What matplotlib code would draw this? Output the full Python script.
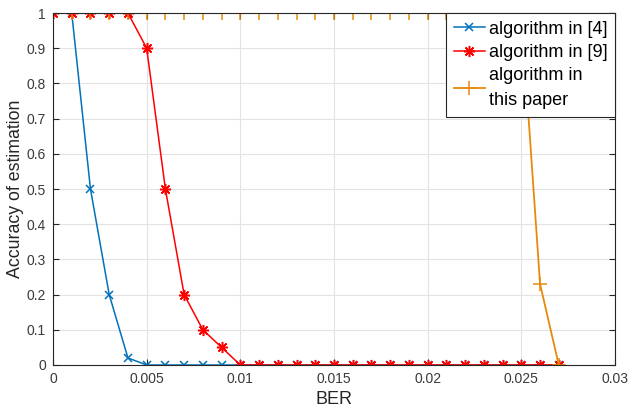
import matplotlib
matplotlib.use("Agg")
import matplotlib.pyplot as plt
import numpy as np

plt.rcParams['font.family'] = ['Liberation Sans', 'DejaVu Sans']

ber = [0.000, 0.001, 0.002, 0.003, 0.004, 0.005, 0.006, 0.007, 0.008, 0.009,
       0.010, 0.011, 0.012, 0.013, 0.014, 0.015, 0.016, 0.017, 0.018, 0.019,
       0.020, 0.021, 0.022, 0.023, 0.024, 0.025, 0.026, 0.027]
acc_alg4 = [1, 1, 0.5, 0.2, 0.02, 0, 0, 0, 0, 0,
            0, 0, 0, 0, 0, 0, 0, 0, 0, 0,
            0, 0, 0, 0, 0, 0, 0, 0]
acc_alg9 = [1, 1, 1, 1, 1, 0.9, 0.5, 0.2, 0.1, 0.05,
            0, 0, 0, 0, 0, 0, 0, 0, 0, 0,
            0, 0, 0, 0, 0, 0, 0, 0]
acc_this = [1, 1, 1, 1, 1, 1, 1, 1, 1, 1,
            1, 1, 1, 1, 1, 1, 1, 1, 1, 1,
            1, 1, 1, 1, 1, 1, 0.23, 0]
labels = ['algorithm in [4]', 'algorithm in [9]', 'algorithm in\nthis paper']
xticks = [0, 0.005, 0.01, 0.015, 0.02, 0.025, 0.03]
xticklabels = ['0', '0.005', '0.01', '0.015', '0.02', '0.025', '0.03']
yticks = [0, 0.1, 0.2, 0.3, 0.4, 0.5, 0.6, 0.7, 0.8, 0.9, 1]
yticklabels = ['0', '0.1', '0.2', '0.3', '0.4', '0.5', '0.6', '0.7', '0.8', '0.9', '1']

fig = plt.figure(figsize=(6.29, 4.15), dpi=100)
ax = fig.add_axes([53/629, 1-365/415, (615-53)/629, (365-13)/415])

ax.plot(ber, acc_alg4, color='#0072BD', marker='x', markersize=6, mew=1.1, lw=1.1, label=labels[0])
ax.plot(ber, acc_alg9, color='#FF0000', marker=(8, 2, 0), markersize=8, mew=1.1, lw=1.1, label=labels[1])
ax.plot(ber, acc_this, color='#E8890C', marker='+', markersize=10, mew=1.1, lw=1.3, label=labels[2])

ax.set_xlim(0, 0.03)
ax.set_ylim(0, 1)
ax.set_xticks(xticks)
ax.set_xticklabels(xticklabels)
ax.set_yticks(yticks)
ax.set_yticklabels(yticklabels)
ax.grid(True, color='#E3E3E3', lw=0.8)
ax.set_axisbelow(True)
ax.tick_params(direction='in', labelsize=10, length=4, top=True, right=True,
               colors='#262626', labelcolor='#3A3A3A', pad=5)
for s in ax.spines.values():
    s.set_color('#262626')
    s.set_linewidth(0.8)
ax.set_xlabel('BER', fontsize=13, color='#262626', labelpad=4)
ax.set_ylabel('Accuracy of estimation', fontsize=12.8, color='#262626', labelpad=2)

leg = ax.legend(loc='upper right', fontsize=13, frameon=True, fancybox=False,
                handlelength=1.75, handletextpad=0.2, borderpad=0.42, labelspacing=0.35,
                borderaxespad=0, edgecolor='#262626', framealpha=1)
leg.get_frame().set_linewidth(0.8)
leg.get_texts()[2].set_linespacing(1.6)

fig.savefig('out.png', dpi=100)
